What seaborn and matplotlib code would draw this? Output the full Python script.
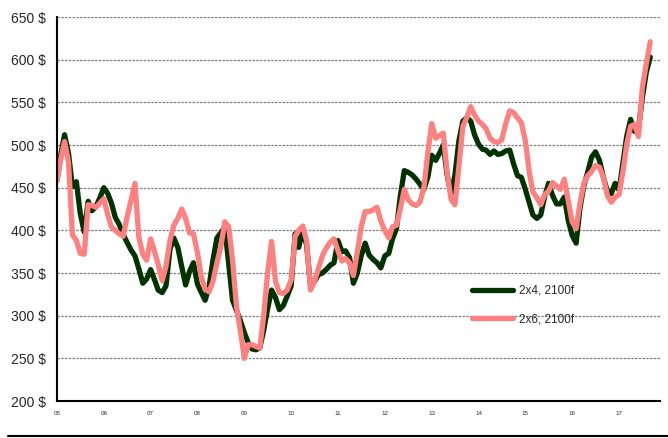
import pandas as pd
import numpy as np
import matplotlib
matplotlib.use('Agg')
import matplotlib.pyplot as plt
import matplotlib.dates as mdates
from matplotlib.lines import Line2D
import seaborn as sns

# monthly prices, Jan 2005 .. Sep 2017
months = pd.date_range('2005-01-01', periods=153, freq='MS')

price_2x4 = [459, 490, 512, 490, 451, 457, 420, 398, 434, 423, 428, 438,
             450, 443, 432, 415, 407, 395, 386, 377, 370, 355, 338, 343,
             354, 342, 330, 327, 335, 378, 391, 380, 357, 336, 352, 362,
             337, 327, 318, 334, 365, 391, 397, 404, 360, 318, 306, 294,
             280, 268, 261, 260, 262, 283, 308, 330, 321, 307, 312, 323,
             335, 396, 380, 400, 383, 335, 340, 348, 350, 354, 359, 362,
             388, 375, 376, 368, 338, 350, 370, 385, 371, 366, 362, 356,
             370, 373, 390, 402, 440, 470, 468, 465, 460, 454, 448, 462,
             488, 482, 490, 500, 465, 442, 465, 505, 528, 532, 528, 512,
             501, 495, 494, 489, 493, 489, 490, 493, 494, 478, 464, 462,
             448, 432, 418, 414, 418, 440, 455, 441, 431, 431, 439, 412,
             394, 385, 425, 452, 468, 486, 492, 482, 462, 446, 443, 455,
             447, 480, 510, 530, 516, 519, 555, 585, 603]

price_2x6 = [458, 485, 504, 480, 395, 388, 373, 372, 430, 429, 427, 432,
             437, 418, 404, 400, 396, 393, 415, 435, 455, 392, 372, 365,
             390, 375, 360, 341, 358, 388, 406, 414, 425, 414, 397, 396,
             374, 345, 331, 328, 340, 362, 380, 410, 404, 365, 310, 282,
             250, 266, 266, 264, 262, 300, 350, 387, 340, 327, 326, 330,
             342, 393, 400, 405, 388, 330, 340, 355, 370, 379, 386, 390,
             376, 364, 367, 362, 347, 375, 404, 422, 422, 424, 427, 411,
             400, 391, 404, 406, 425, 448, 436, 431, 429, 433, 450, 490,
             525, 508, 511, 514, 468, 436, 430, 475, 522, 532, 545, 535,
             528, 524, 519, 508, 504, 503, 506, 525, 540, 538, 532, 526,
             505, 468, 445, 438, 430, 442, 446, 456, 452, 448, 460, 435,
             410, 402, 431, 455, 464, 469, 476, 474, 462, 441, 433, 439,
             442, 470, 500, 522, 524, 510, 567, 595, 621]

series_names = ['2x4, 2100f', '2x6, 2100f']
series_colors = ['#003300', '#ff8080']
y_ticks = list(range(200, 651, 50))

sns.set_style('white')
plt.rcParams['font.family'] = ['Liberation Sans', 'DejaVu Sans']

df = pd.DataFrame({'date': months, series_names[0]: price_2x4, series_names[1]: price_2x6})

fig = plt.figure(figsize=(6.68, 4.38), dpi=100)
ax = fig.add_axes([57 / 668, 1 - 401 / 438, 603 / 668, 384 / 438])

for name, col in zip(series_names, series_colors):
    sns.lineplot(data=df, x='date', y=name, ax=ax, color=col, lw=3.8,
                 label=name, legend=False, solid_joinstyle='round')

ax.set_xlim(pd.Timestamp('2005-01-01'), pd.Timestamp('2017-11-16'))
ax.set_ylim(200, 650)
ax.set_yticks(y_ticks)
ax.set_yticklabels([f'{v} $' for v in y_ticks], fontsize=10)
ax.xaxis.set_major_locator(mdates.YearLocator())
ax.xaxis.set_minor_locator(mdates.MonthLocator(bymonth=[4, 7, 10]))
ax.xaxis.set_major_formatter(mdates.DateFormatter('%y'))
ax.tick_params(axis='x', which='both', direction='inout', length=7, width=1.2,
               labelsize=4.5, labelcolor='#333333', pad=4)
ax.tick_params(axis='y', direction='inout', length=6, width=1.2, pad=5)
ax.set_xlabel('')
ax.set_ylabel('')

ax.grid(True, axis='y', color='#7f7f7f', linestyle=(0, (2, 1)), lw=0.9)
ax.grid(False, axis='x')
for s in ['top', 'right']:
    ax.spines[s].set_visible(False)
for s in ['left', 'bottom']:
    ax.spines[s].set_color('black')
    ax.spines[s].set_linewidth(1.5)

ax.legend(loc='center left', bbox_to_anchor=(0.688, 0.25), frameon=False,
          fontsize=8.5, handlelength=3.5, handletextpad=0.5, labelspacing=1.4,
          borderpad=0, borderaxespad=0)

fig.add_artist(Line2D([8 / 668, 1], [1 - 436 / 438] * 2, color='black', lw=1.5))

fig.savefig('out.png', dpi=100)
